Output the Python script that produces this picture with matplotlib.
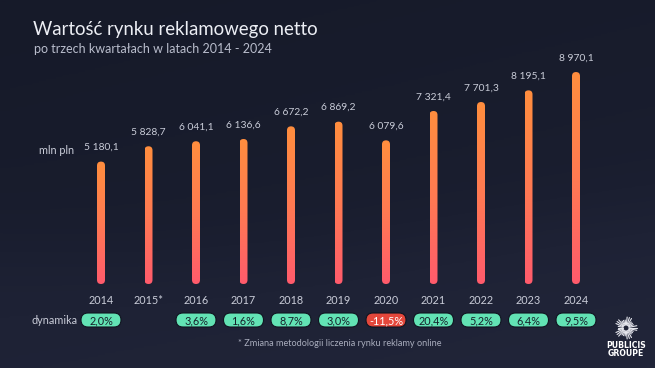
import numpy as np
import matplotlib
matplotlib.use("Agg")
import matplotlib.pyplot as plt
from matplotlib.patches import FancyBboxPatch
from matplotlib.colors import LinearSegmentedColormap

# ---- data ----
years = ["2014", "2015*", "2016", "2017", "2018", "2019", "2020", "2021", "2022", "2023", "2024"]
values = [5180.1, 5828.7, 6041.1, 6136.6, 6672.2, 6869.2, 6079.6, 7321.4, 7701.3, 8195.1, 8970.1]
value_labels = ["5 180,1", "5 828,7", "6 041,1", "6 136,6", "6 672,2", "6 869,2",
                "6 079,6", "7 321,4", "7 701,3", "8 195,1", "8 970,1"]
dynamics = ["2,0%", None, "3,6%", "1,6%", "8,7%", "3,0%", "-11,5%", "20,4%", "5,2%", "6,4%", "9,5%"]

TITLE = "Wartość rynku reklamowego netto"
SUBTITLE = "po trzech kwartałach w latach 2014 - 2024"
FOOTNOTE = "* Zmiana metodologii liczenia rynku reklamy online"

FONT = "Lato"
W, H = 655, 368
TXT = "#c9ccd8"
GREEN = "#62e3b4"; RED = "#e4473b"
bar_cmap = LinearSegmentedColormap.from_list("bar", ["#ff5b6c", "#ff7a52", "#ff8e3e"])

fig = plt.figure(figsize=(W / 100, H / 100), dpi=100)

# background + overlay in pixel coords
bg = fig.add_axes([0, 0, 1, 1], zorder=0)
bg.set_xlim(0, W); bg.set_ylim(H, 0); bg.axis("off")
yy, xx = np.mgrid[0:1:200j, 0:1:200j]
wave = 0.5 + 0.5 * np.tanh((yy - (0.62 + 0.08 * np.sin(xx * 3.2 + 0.8))) * 8)
grad = 0.35 * yy + 0.15 * xx + 0.35 * wave
bg_cmap = LinearSegmentedColormap.from_list("bg", ["#161a29", "#1b1f31", "#212539"])
bg.imshow(grad, cmap=bg_cmap, extent=(0, W, H, 0), aspect="auto", zorder=0)

# chart axes: x = bar index, y = value
ax = fig.add_axes([77.25 / W, (H - 284) / H, 522.5 / W, 236.3 / H], zorder=1)
ax.set_xlim(-0.5, len(values) - 0.5)
ax.set_ylim(0, 10000)
ax.axis("off")
ax.patch.set_alpha(0)

bar_w = 8 / 47.5  # bar width in index units
# aspect: data-y per pixel over data-x per pixel
p0 = ax.transData.transform((0, 0)); p1 = ax.transData.transform((1, 1000))
aspect = (1000 / abs(p1[1] - p0[1])) / (1 / abs(p1[0] - p0[0]))
grad_img = np.linspace(0, 1, 256).reshape(-1, 1)

for i, v in enumerate(values):
    patch = FancyBboxPatch((i - bar_w / 2, 0), bar_w, v,
                           boxstyle=f"round,pad=0,rounding_size={bar_w / 2}",
                           mutation_aspect=aspect, transform=ax.transData,
                           facecolor="none", edgecolor="none")
    ax.add_patch(patch)
    im = ax.imshow(grad_img, cmap=bar_cmap, origin="lower", aspect="auto",
                   extent=(i - bar_w / 2, i + bar_w / 2, 0, v), zorder=2)
    im.set_clip_path(patch)
    ax.annotate(value_labels[i], (i, v), xytext=(0, 7), textcoords="offset points",
                ha="center", va="bottom", fontsize=7.4, color=TXT, family=FONT)
ax.set_xlim(-0.5, len(values) - 0.5)
ax.set_ylim(0, 10000)


def px(i):
    # index -> pixel x in overlay coords
    return ax.transData.transform((i, 0))[0] * W / fig.bbox.width


ov = fig.add_axes([0, 0, 1, 1], zorder=3)
ov.set_xlim(0, W); ov.set_ylim(H, 0); ov.axis("off"); ov.patch.set_alpha(0)

for i, y in enumerate(years):
    x = px(i)
    ov.text(x, 300, y, ha="center", va="center", fontsize=7.8, color=TXT, family=FONT)
    d = dynamics[i]
    if d is None:
        continue
    neg = d.startswith("-")
    ov.add_patch(FancyBboxPatch((x - 20, 313), 40, 14,
                                boxstyle="round,pad=0,rounding_size=7",
                                facecolor=RED if neg else GREEN, edgecolor="#101420", lw=0.8))
    ov.text(x, 320.5, d, ha="center", va="center", fontsize=7.8,
            color="white" if neg else "#15202a", family=FONT)

ov.text(78, 320.5, "dynamika", ha="right", va="center", fontsize=7.8, color=TXT, family=FONT)
ov.text(74, 150, "mln pln", ha="right", va="center", fontsize=7.8, color=TXT, family=FONT)
ov.text(33, 30, TITLE, ha="left", va="center", fontsize=13.4, color="#eceef4", family=FONT)
ov.text(34, 49, SUBTITLE, ha="left", va="center", fontsize=9, color="#b9bdcc", family=FONT)
ov.text(340, 343, FOOTNOTE, ha="center", va="center", fontsize=6.6, color="#a9adbd", family=FONT)

# Publicis logo (simplified)
cx, cy = 626, 328
for a in np.linspace(0, 2 * np.pi, 30, endpoint=False):
    r = 8 + 3 * (np.cos(a * 5) > 0)
    ov.plot([cx + 3 * np.cos(a), cx + r * np.cos(a)], [cy - 3 * np.sin(a), cy - r * np.sin(a)],
            color="#e6e7ee", lw=0.8, solid_capstyle="round")
ov.text(626, 345, "PUBLICIS", ha="center", va="center", fontsize=5.6, weight="bold",
        color="white", family="DejaVu Sans")
ov.text(626, 353, "GROUPE", ha="center", va="center", fontsize=5.6, weight="bold",
        color="white", family="DejaVu Sans")

fig.savefig("out.png", dpi=100)
